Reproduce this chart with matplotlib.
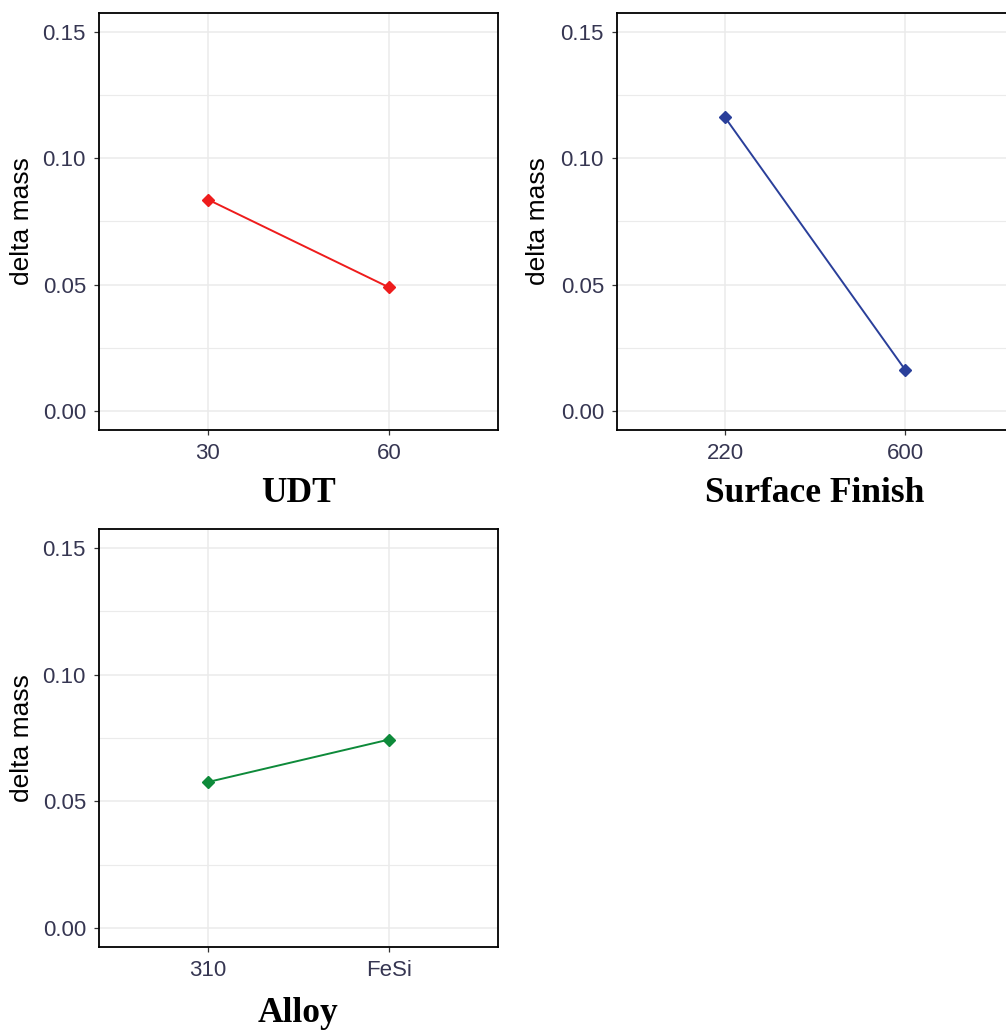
import numpy as np
import matplotlib.pyplot as plt
from matplotlib.ticker import MultipleLocator, FormatStrFormatter

# main effect means
udt_levels = ['30', '60']
udt_mass = [0.0837, 0.0489]

sf_levels = ['220', '600']
sf_mass = [0.1162, 0.0164]

alloy_levels = ['310', 'FeSi']
alloy_mass = [0.0576, 0.0744]

W, H = 1006, 1030
fig = plt.figure(figsize=(W / 100, H / 100), dpi=100)
fig.patch.set_facecolor('white')

tick_col = '#363652'
grid_col = '#ebebeb'


def panel(rect_px, levels, values, color, xlabel, xlab_off=63):
    l, t, r, b = rect_px
    ax = fig.add_axes([l / W, 1 - b / H, (r - l) / W, (b - t) / H])
    ax.plot(levels, values, color=color, lw=1.4, marker='D', ms=6.3,
            mec=color, mfc=color, zorder=3)
    ax.set_xlim(-0.6, 1.6)
    ax.set_ylim(-0.0075, 0.1575)
    ax.yaxis.set_major_locator(MultipleLocator(0.05))
    ax.yaxis.set_minor_locator(MultipleLocator(0.025))
    ax.yaxis.set_major_formatter(FormatStrFormatter('%.2f'))
    ax.grid(which='major', color=grid_col, lw=1.1, zorder=0)
    ax.grid(which='minor', axis='y', color=grid_col, lw=0.8, zorder=0)
    ax.set_axisbelow(True)
    ax.tick_params(which='major', length=3.6, width=0.9, color='#333333',
                   pad=5.8, labelsize=16, labelcolor=tick_col)
    ax.tick_params(which='minor', length=0)
    for lab in ax.get_xticklabels() + ax.get_yticklabels():
        lab.set_family('Liberation Sans')
    for s in ax.spines.values():
        s.set_color('black')
        s.set_linewidth(1.3)
    ax.set_ylabel('delta mass', fontsize=19, family='Liberation Sans', color='black')
    ax.yaxis.set_label_coords((22 - l) / (r - l), 0.5)
    ax.yaxis.label.set_va('center')
    ax.set_xlabel(xlabel, fontsize=25.5, family='Liberation Serif',
                  fontweight='bold', color='black')
    ax.xaxis.set_label_coords(0.5, -xlab_off / (b - t))
    ax.xaxis.label.set_va('center')
    return ax


panel((99, 13, 498, 430), udt_levels, udt_mass, '#ee1c1c', 'UDT')
ax2 = panel((617, 13, 1013, 430), sf_levels, sf_mass, '#2a3f9a', 'Surface Finish')
ax2.yaxis.set_label_coords((538 - 617) / (1013 - 617), 0.5)
ax3 = panel((99, 529, 498, 947), alloy_levels, alloy_mass, '#0e8a3a', 'Alloy', xlab_off=67)

fig.savefig('out.png', dpi=100, facecolor='white')
